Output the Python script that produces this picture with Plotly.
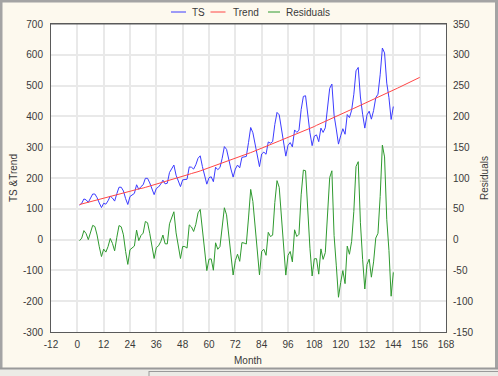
import plotly.graph_objects as go

# ---------------- data ----------------
months = list(range(1, 145))
trend_months = list(range(1, 157))

ts = [112, 118, 132, 129, 121, 135, 148, 148, 136, 119, 104, 118,
      115, 126, 141, 135, 125, 149, 170, 170, 158, 133, 114, 140,
      145, 150, 178, 163, 172, 178, 199, 199, 184, 162, 146, 166,
      171, 180, 193, 181, 183, 218, 230, 242, 209, 191, 172, 194,
      196, 196, 236, 235, 229, 243, 264, 272, 237, 211, 180, 201,
      204, 188, 235, 227, 234, 264, 302, 293, 259, 229, 203, 229,
      242, 233, 267, 269, 270, 315, 364, 347, 312, 274, 237, 278,
      284, 277, 317, 313, 318, 374, 413, 405, 355, 306, 271, 306,
      315, 301, 356, 348, 355, 422, 465, 467, 404, 347, 305, 336,
      340, 318, 362, 348, 363, 435, 491, 505, 404, 359, 310, 337,
      360, 342, 406, 396, 420, 472, 548, 559, 463, 407, 362, 405,
      417, 391, 419, 461, 472, 535, 622, 606, 508, 461, 390, 432]

trend = [113.8, 115.6, 117.4, 119.3, 121.1, 123.0, 124.9, 126.8, 128.6, 130.6,
         131.5, 133.4, 135.3, 137.3, 139.2, 141.2, 143.2, 145.2, 147.2, 149.2,
         150.2, 152.3, 154.3, 156.4, 158.4, 160.5, 162.6, 164.7,
         165.3, 167.5, 169.6, 171.7, 173.9, 176.1,
         176.7, 178.9, 181.1, 183.3, 185.6, 187.8, 190.0, 192.3, 194.6, 196.8,
         198.1, 200.4, 202.7, 205.1, 207.4, 209.8, 212.1, 214.5,
         215.8, 218.2, 220.6, 223.0, 225.5, 227.9, 230.3, 232.8, 235.3, 237.7,
         240.2, 242.7, 245.2, 247.8, 250.3, 252.8, 255.4, 258.0, 260.5, 263.1,
         265.7, 268.3,
         271.9, 274.6, 277.2, 279.9, 282.5, 285.2, 287.9, 290.6,
         294.3, 297.0, 299.7, 302.5, 305.2, 308.0, 310.8, 313.6,
         317.3, 320.2, 323.0, 325.8, 328.6, 331.5, 334.3, 337.2, 340.1, 343.0,
         346.4, 349.3, 352.2, 355.2, 358.1, 361.1, 364.1, 367.1,
         371.0, 374.1, 377.1, 380.1, 384.1, 387.2, 390.2, 393.3,
         397.4, 400.5, 403.6, 406.7,
         410.3, 413.5, 416.6, 419.8, 422.9, 426.1, 429.3, 432.5, 435.7, 439.0,
         442.2, 445.4, 448.7, 452.0, 455.2, 458.5, 461.8, 465.1, 468.5, 471.8,
         475.1, 478.5, 481.9, 485.2, 488.6, 492.0, 495.5, 498.9, 502.3, 505.8,
         509.2, 512.7, 516.1, 519.6, 523.1, 526.6]

residuals = [-1.8, 2.4, 14.6, 9.7, -0.1, 12.0, 23.1, 21.2, 7.4, -11.6, -27.5, -15.4,
             -20.3, -11.3, 1.8, -6.2, -18.2, 3.8, 22.8, 20.8, 7.8, -19.3, -40.3, -16.4,
             -13.4, -10.5, 15.4, -1.7, 6.7, 10.5, 29.4, 27.3, 10.1, -14.1, -30.7, -12.9,
             -10.1, -3.3, 7.4, -6.8, -7.0, 25.7, 35.4, 45.2, 10.9, -9.4, -30.7, -11.1,
             -11.4, -13.8, 23.9, 20.5, 13.2, 24.8, 43.4, 49.0, 11.5, -16.9, -50.3, -31.8,
             -31.3, -49.7, -5.2, -15.7, -11.2, 16.2, 51.7, 40.2, 3.6, -29.0, -57.5, -34.1,
             -23.7, -35.3, -4.9, -5.6, -7.2, 35.1, 81.5, 61.8, 24.1, -16.6, -57.3, -19.0,
             -15.7, -25.5, 11.8, 5.0, 7.2, 60.4, 95.7, 84.8, 32.0, -19.8, -57.6, -25.5,
             -19.3, -36.2, 15.9, 5.0, 8.6, 72.7, 112.8, 111.8, 45.9, -14.1, -59.1, -31.1,
             -31.0, -56.1, -15.1, -32.1, -21.1, 47.8, 100.8, 111.7, 6.6, -41.5, -93.6, -69.7,
             -50.3, -71.5, -10.6, -23.8, -2.9, 45.9, 118.7, 126.5, 27.3, -32.0, -80.2, -40.4,
             -31.7, -61.0, -36.2, 2.5, 10.2, 69.9, 153.5, 134.2, 32.9, -17.5, -91.9, -53.2]

x_ticks = [-12, 0, 12, 24, 36, 48, 60, 72, 84, 96, 108, 120, 132, 144, 156, 168]
y_ticks = [-300, -200, -100, 0, 100, 200, 300, 400, 500, 600, 700]
y2_ticks = [-150, -100, -50, 0, 50, 100, 150, 200, 250, 300, 350]

series_names = ["TS", "Trend", "Residuals"]
series_colors = ["#3c3cff", "#ff4646", "#2f9a2f"]

# ---------------- geometry (pixels) ----------------
W, H = 498, 376
L, R, T, B = 51, 446, 24, 332


def px(xp):
    return (xp - L) / (R - L)


def py(yp):
    return (B - yp) / (B - T)


FONT = "Liberation Sans, Arial, sans-serif"
TXT = "#3a3a3a"

fig = go.Figure()
fig.add_trace(go.Scatter(x=months, y=ts, mode="lines", name=series_names[0],
                         line=dict(color=series_colors[0], width=1), yaxis="y"))
fig.add_trace(go.Scatter(x=trend_months, y=trend, mode="lines", name=series_names[1],
                         line=dict(color=series_colors[1], width=1), yaxis="y"))
fig.add_trace(go.Scatter(x=months, y=residuals, mode="lines", name=series_names[2],
                         line=dict(color=series_colors[2], width=1), yaxis="y2"))

axis_common = dict(showline=True, linecolor="#5a5a5a", linewidth=1, zeroline=False,
                   tickfont=dict(size=10, color=TXT, family=FONT), ticks="")

fig.update_layout(
    width=W, height=H,
    margin=dict(l=L, r=W - R, t=T, b=H - B, pad=0),
    paper_bgcolor="#fdf9ee",
    plot_bgcolor="#ffffff",
    showlegend=False,
    font=dict(family=FONT, size=10, color=TXT),
    xaxis=dict(range=[-12, 168], tickvals=x_ticks, ticktext=[str(v) for v in x_ticks],
               showgrid=True, gridcolor="#e9e9e9", gridwidth=1.5, mirror=True,
               ticklabelstandoff=3, **axis_common),
    yaxis=dict(range=[-300, 700], tickvals=y_ticks, ticktext=[str(v) for v in y_ticks],
               showgrid=True, gridcolor="#e9e9e9", gridwidth=1.5, mirror=False,
               ticklabelstandoff=5, **axis_common),
    yaxis2=dict(range=[-150, 350], tickvals=y2_ticks, ticktext=[str(v) for v in y2_ticks],
                overlaying="y", side="right", showgrid=False,
                ticklabelstandoff=4, **axis_common),
)

shapes = []
annotations = []

# top border line of plot box
shapes.append(dict(type="line", xref="paper", yref="paper", x0=0, x1=1, y0=1, y1=1,
                   line=dict(color="#5a5a5a", width=1)))

# manual legend
leg_y = py(12)
leg_items = [(171, 186, 190), (210.5, 225.5, 230.5), (268, 280, 284)]
for (x0, x1, xt), name, col in zip(leg_items, series_names, series_colors):
    shapes.append(dict(type="line", xref="paper", yref="paper", x0=px(x0), x1=px(x1),
                       y0=leg_y, y1=leg_y, line=dict(color=col, width=1)))
    annotations.append(dict(text=name, xref="paper", yref="paper", x=px(xt), y=leg_y,
                            xanchor="left", yanchor="middle", showarrow=False,
                            font=dict(size=10, color=TXT, family=FONT)))

# axis titles
annotations.append(dict(text="TS &Trend", xref="paper", yref="paper", x=px(13), y=py(178),
                        textangle=-90, xanchor="center", yanchor="middle", showarrow=False,
                        font=dict(size=10, color=TXT, family=FONT)))
annotations.append(dict(text="Residuals", xref="paper", yref="paper", x=px(484), y=py(178),
                        textangle=-90, xanchor="center", yanchor="middle", showarrow=False,
                        font=dict(size=10, color=TXT, family=FONT)))
annotations.append(dict(text="Month", xref="paper", yref="paper", x=px(248), y=py(360),
                        xanchor="center", yanchor="middle", showarrow=False,
                        font=dict(size=10, color=TXT, family=FONT)))

# window frame
frame = "#a4a4a4"
shapes += [
    dict(type="rect", xref="paper", yref="paper", x0=px(0), x1=px(2.5), y0=py(376), y1=py(0),
         fillcolor=frame, line=dict(width=0), layer="above"),
    dict(type="rect", xref="paper", yref="paper", x0=px(0), x1=px(498), y0=py(2.5), y1=py(0),
         fillcolor=frame, line=dict(width=0), layer="above"),
    dict(type="rect", xref="paper", yref="paper", x0=px(495), x1=px(498), y0=py(376), y1=py(0),
         fillcolor=frame, line=dict(width=0), layer="above"),
    dict(type="rect", xref="paper", yref="paper", x0=px(0), x1=px(498), y0=py(376), y1=py(368),
         fillcolor="#ecebe6", line=dict(width=0), layer="above"),
    dict(type="line", xref="paper", yref="paper", x0=px(0), x1=px(498), y0=py(368.5), y1=py(368.5),
         line=dict(color="#9a9a9a", width=2), layer="above"),
    dict(type="line", xref="paper", yref="paper", x0=px(149), x1=px(149), y0=py(376), y1=py(371),
         line=dict(color="#9a9a9a", width=1), layer="above"),
    dict(type="line", xref="paper", yref="paper", x0=px(149), x1=px(498), y0=py(371.5), y1=py(371.5),
         line=dict(color="#9a9a9a", width=1), layer="above"),
]

fig.update_layout(shapes=shapes, annotations=annotations)

fig.write_html("out.html", config={"displayModeBar": False},
               post_script="document.body.style.margin='0';document.body.style.padding='0';")
